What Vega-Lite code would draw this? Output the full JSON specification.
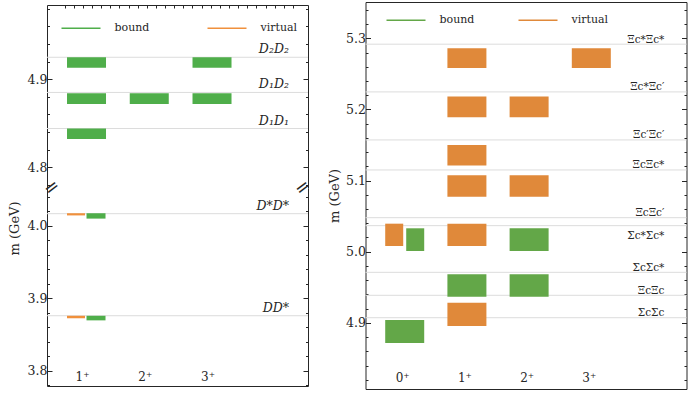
{
  "$schema": "https://vega.github.io/schema/vega-lite/v6.json",
  "padding": {"left": 8, "top": 2, "right": 2, "bottom": 2},
  "background": "white",
  "config": {
    "view": {"stroke": null},
    "font": "DejaVu Serif",
    "axis": {
      "domainColor": "#262626", "tickColor": "#262626", "labelColor": "#262626", "titleColor": "#262626",
      "labelFont": "DejaVu Serif", "labelFontSize": 12.5, "titleFont": "DejaVu Serif", "titleFontSize": 13,
      "titleFontWeight": "normal", "grid": false, "domainWidth": 1, "tickWidth": 1
    },
    "legend": {"labelFont": "DejaVu Serif", "labelFontSize": 11, "labelColor": "#262626"}
  },
  "datasets": {
    "thrL": [
      {"label": "D₂D₂", "m": 4.925},
      {"label": "D₁D₂", "m": 4.885},
      {"label": "D₁D₁", "m": 4.844},
      {"label": "D*D*", "m": 4.0166},
      {"label": "DD*", "m": 3.8759}
    ],
    "barsL": [
      {"jp": "1⁺", "i": 0, "kind": "bound", "pair": "no", "m_hi": 4.925, "m_lo": 4.913},
      {"jp": "3⁺", "i": 2, "kind": "bound", "pair": "no", "m_hi": 4.925, "m_lo": 4.913},
      {"jp": "1⁺", "i": 0, "kind": "bound", "pair": "no", "m_hi": 4.884, "m_lo": 4.872},
      {"jp": "2⁺", "i": 1, "kind": "bound", "pair": "no", "m_hi": 4.884, "m_lo": 4.872},
      {"jp": "3⁺", "i": 2, "kind": "bound", "pair": "no", "m_hi": 4.884, "m_lo": 4.872},
      {"jp": "1⁺", "i": 0, "kind": "bound", "pair": "no", "m_hi": 4.844, "m_lo": 4.832},
      {"jp": "1⁺", "i": 0, "kind": "virtual", "pair": "yes", "m_hi": 4.0172, "m_lo": 4.0142},
      {"jp": "1⁺", "i": 0, "kind": "bound", "pair": "yes", "m_hi": 4.0172, "m_lo": 4.0098},
      {"jp": "1⁺", "i": 0, "kind": "virtual", "pair": "yes", "m_hi": 3.8758, "m_lo": 3.8724},
      {"jp": "1⁺", "i": 0, "kind": "bound", "pair": "yes", "m_hi": 3.8758, "m_lo": 3.8695}
    ],
    "jpL": [
      {"jp": "1⁺", "i": 0}, {"jp": "2⁺", "i": 1}, {"jp": "3⁺", "i": 2}
    ],
    "thrR": [
      {"label": "Ξc*Ξc*", "m": 5.2917},
      {"label": "Ξc*Ξc′", "m": 5.2246},
      {"label": "Ξc′Ξc′", "m": 5.1571},
      {"label": "ΞcΞc*", "m": 5.1149},
      {"label": "ΞcΞc′", "m": 5.0478},
      {"label": "Σc*Σc*", "m": 5.0366},
      {"label": "ΣcΣc*", "m": 4.971},
      {"label": "ΞcΞc", "m": 4.9387},
      {"label": "ΣcΣc", "m": 4.9072}
    ],
    "barsR": [
      {"jp": "0⁺", "i": 0, "kind": "virtual", "pair": "yes", "m_hi": 5.0394, "m_lo": 5.008},
      {"jp": "0⁺", "i": 0, "kind": "bound", "pair": "yes", "m_hi": 5.0329, "m_lo": 5.001},
      {"jp": "0⁺", "i": 0, "kind": "bound", "pair": "no", "m_hi": 4.9039, "m_lo": 4.8716},
      {"jp": "1⁺", "i": 1, "kind": "virtual", "pair": "no", "m_hi": 5.2861, "m_lo": 5.2584},
      {"jp": "1⁺", "i": 1, "kind": "virtual", "pair": "no", "m_hi": 5.218, "m_lo": 5.189},
      {"jp": "1⁺", "i": 1, "kind": "virtual", "pair": "no", "m_hi": 5.1501, "m_lo": 5.121},
      {"jp": "1⁺", "i": 1, "kind": "virtual", "pair": "no", "m_hi": 5.1075, "m_lo": 5.0774},
      {"jp": "1⁺", "i": 1, "kind": "virtual", "pair": "no", "m_hi": 5.0394, "m_lo": 5.008},
      {"jp": "1⁺", "i": 1, "kind": "bound", "pair": "no", "m_hi": 4.9682, "m_lo": 4.9367},
      {"jp": "1⁺", "i": 1, "kind": "virtual", "pair": "no", "m_hi": 4.9283, "m_lo": 4.8955},
      {"jp": "2⁺", "i": 2, "kind": "virtual", "pair": "no", "m_hi": 5.218, "m_lo": 5.189},
      {"jp": "2⁺", "i": 2, "kind": "virtual", "pair": "no", "m_hi": 5.1075, "m_lo": 5.0774},
      {"jp": "2⁺", "i": 2, "kind": "bound", "pair": "no", "m_hi": 5.0329, "m_lo": 5.001},
      {"jp": "2⁺", "i": 2, "kind": "bound", "pair": "no", "m_hi": 4.9682, "m_lo": 4.9367},
      {"jp": "3⁺", "i": 3, "kind": "virtual", "pair": "no", "m_hi": 5.2861, "m_lo": 5.2584}
    ],
    "jpR": [
      {"jp": "0⁺", "i": 0}, {"jp": "1⁺", "i": 1}, {"jp": "2⁺", "i": 2}, {"jp": "3⁺", "i": 3}
    ]
  },
  "hconcat": [
    {
      "vconcat": [
        {
          "width": 261,
          "height": 183,
          "resolve": {"axis": {"x": "independent", "y": "independent"}},
          "layer": [
            {
              "data": {"name": "thrL"},
              "transform": [{"filter": "datum.m > 4.5"}],
              "mark": {"type": "rule", "color": "#dcdcdc", "strokeWidth": 1},
              "encoding": {
                "y": {"field": "m", "type": "quantitative",
                  "scale": {"domain": [4.7764, 4.9844], "nice": false, "zero": false},
                  "axis": {"orient": "left", "title": null, "tickCount": 10, "labelOverlap": false,
                    "labelExpr": "abs(datum.value*10 - round(datum.value*10)) < 0.001 ? format(datum.value, '.1f') : ''",
                    "labelFontSize": {"condition": {"test": "abs(datum.value*10 - round(datum.value*10)) < 0.001", "value": 12.5}, "value": 0},
                    "tickSize": {"condition": {"test": "abs(datum.value*10 - round(datum.value*10)) < 0.001", "value": -5}, "value": -2.5},
                    "labelPadding": 5}}
              }
            },
            {
              "data": {"name": "thrL"},
              "transform": [{"filter": "datum.m > 4.5"}],
              "mark": {"type": "text", "align": "right", "baseline": "alphabetic", "dy": -4, "fontSize": 12.5, "fontStyle": "italic", "font": "DejaVu Serif", "color": "#262626"},
              "encoding": {
                "x": {"datum": 3.226, "type": "quantitative",
                  "scale": {"domain": [-0.55, 3.45], "nice": false, "zero": false},
                  "axis": {"orient": "top", "title": null, "labels": false, "tickSize": -3,
                    "values": [-0.348, -0.2025, -0.057, 0.0885, 0.234, 0.3795, 0.525, 0.6705, 0.816, 0.9615, 1.107, 1.2525, 1.398, 1.5435, 1.689, 1.8345, 1.98, 2.1255, 2.271, 2.4165, 2.562, 2.7075, 2.853, 2.9985, 3.144, 3.2895]}},
                "y": {"field": "m", "type": "quantitative",
                  "axis": {"orient": "right", "title": null, "labels": false, "tickCount": 10,
                    "tickSize": {"condition": {"test": "abs(datum.value*10 - round(datum.value*10)) < 0.001", "value": -5}, "value": -2.5}}},
                "text": {"field": "label"}
              }
            },
            {
              "data": {"name": "barsL"},
              "transform": [{"filter": "datum.m_lo > 4.5"}],
              "mark": {"type": "bar", "width": 39, "orient": "vertical"},
              "encoding": {
                "x": {"field": "i", "type": "quantitative", "axis": null},
                "y": {"field": "m_hi", "type": "quantitative", "axis": null},
                "y2": {"field": "m_lo"},
                "color": {"field": "kind", "type": "nominal",
                  "scale": {"domain": ["bound", "virtual"], "range": ["#4fae4a", "#f0903c"]},
                  "legend": {"orient": "none", "legendX": 26.5, "legendY": 15.5, "direction": "horizontal", "title": null,
                    "symbolType": "M-3,0H3", "symbolSize": 169, "symbolStrokeWidth": 1.6, "labelOffset": 26, "columnPadding": 54, "padding": 0,
                    "encode": {"symbols": {"update": {"stroke": {"signal": "datum.value === 'bound' ? '#4fae4a' : '#f0903c'"}, "strokeWidth": {"value": 1.6}}}}}
                }
              }
            },
            {
              "data": {"values": [{}]},
              "mark": {"type": "text", "text": "=", "font": "DejaVu Sans", "fontSize": 18, "angle": 323, "align": "center", "baseline": "middle", "color": "#262626"},
              "encoding": {
                "x": {"datum": -0.55, "type": "quantitative", "axis": null},
                "y": {"datum": 4.7764, "type": "quantitative", "axis": null}
              }
            },
            {
              "data": {"values": [{}]},
              "mark": {"type": "text", "text": "=", "font": "DejaVu Sans", "fontSize": 18, "angle": 323, "align": "center", "baseline": "middle", "color": "#262626"},
              "encoding": {
                "x": {"datum": 3.45, "type": "quantitative", "axis": null},
                "y": {"datum": 4.7764, "type": "quantitative", "axis": null}
              }
            }
          ]
        },
        {
          "width": 261,
          "height": 198,
          "resolve": {"axis": {"x": "independent", "y": "independent"}},
          "layer": [
            {
              "data": {"name": "thrL"},
              "transform": [{"filter": "datum.m < 4.5"}],
              "mark": {"type": "rule", "color": "#dcdcdc", "strokeWidth": 1},
              "encoding": {
                "y": {"field": "m", "type": "quantitative",
                  "scale": {"domain": [3.779, 4.052], "nice": false, "zero": false},
                  "axis": {"orient": "left", "title": "m (GeV)", "titleX": -25.5, "titleY": 40, "tickCount": 14, "labelOverlap": false,
                    "labelExpr": "abs(datum.value*10 - round(datum.value*10)) < 0.001 ? format(datum.value, '.1f') : ''",
                    "labelFontSize": {"condition": {"test": "abs(datum.value*10 - round(datum.value*10)) < 0.001", "value": 12.5}, "value": 0},
                    "tickSize": {"condition": {"test": "abs(datum.value*10 - round(datum.value*10)) < 0.001", "value": -5}, "value": -2.5},
                    "labelPadding": 5}}
              }
            },
            {
              "data": {"name": "thrL"},
              "transform": [{"filter": "datum.m < 4.5"}],
              "mark": {"type": "text", "align": "right", "baseline": "alphabetic", "dy": -4, "fontSize": 12.5, "fontStyle": "italic", "font": "DejaVu Serif", "color": "#262626"},
              "encoding": {
                "x": {"datum": 3.226, "type": "quantitative",
                  "scale": {"domain": [-0.55, 3.45], "nice": false, "zero": false},
                  "axis": {"orient": "bottom", "title": null, "labels": false, "ticks": false}},
                "y": {"field": "m", "type": "quantitative",
                  "axis": {"orient": "right", "title": null, "labels": false, "tickCount": 14,
                    "tickSize": {"condition": {"test": "abs(datum.value*10 - round(datum.value*10)) < 0.001", "value": -5}, "value": -2.5}}},
                "text": {"field": "label"}
              }
            },
            {
              "data": {"name": "barsL"},
              "transform": [{"filter": "datum.m_lo < 4.5 && datum.kind === 'virtual'"}],
              "mark": {"type": "bar", "width": 18, "xOffset": -10.5, "orient": "vertical"},
              "encoding": {
                "x": {"field": "i", "type": "quantitative", "axis": null},
                "y": {"field": "m_hi", "type": "quantitative", "axis": null},
                "y2": {"field": "m_lo"},
                "color": {"field": "kind", "type": "nominal",
                  "scale": {"domain": ["bound", "virtual"], "range": ["#4fae4a", "#f0903c"]}, "legend": null}
              }
            },
            {
              "data": {"name": "barsL"},
              "transform": [{"filter": "datum.m_lo < 4.5 && datum.kind === 'bound'"}],
              "mark": {"type": "bar", "width": 19, "xOffset": 9.5, "orient": "vertical"},
              "encoding": {
                "x": {"field": "i", "type": "quantitative", "axis": null},
                "y": {"field": "m_hi", "type": "quantitative", "axis": null},
                "y2": {"field": "m_lo"},
                "color": {"field": "kind", "type": "nominal",
                  "scale": {"domain": ["bound", "virtual"], "range": ["#4fae4a", "#f0903c"]}, "legend": null}
              }
            },
            {
              "data": {"name": "jpL"},
              "mark": {"type": "text", "fontSize": 12, "font": "DejaVu Serif", "baseline": "middle", "align": "center", "dx": -4, "color": "#262626"},
              "encoding": {
                "x": {"field": "i", "type": "quantitative", "axis": null},
                "y": {"datum": 3.7917, "type": "quantitative", "axis": null},
                "text": {"field": "jp"}
              }
            }
          ]
        }
      ],
      "spacing": 0,
      "bounds": "flush",
      "resolve": {"scale": {"color": "independent"}, "legend": {"color": "independent"}}
    },
    {
      "width": 321,
      "height": 387,
      "resolve": {"axis": {"x": "independent", "y": "independent"}},
      "layer": [
        {
          "data": {"name": "thrR"},
          "mark": {"type": "rule", "color": "#dcdcdc", "strokeWidth": 1},
          "encoding": {
            "y": {"field": "m", "type": "quantitative",
              "scale": {"domain": [4.807, 5.351], "nice": false, "zero": false},
              "axis": {"orient": "left", "title": "m (GeV)", "tickCount": 27, "labelOverlap": false,
                "labelExpr": "abs(datum.value*10 - round(datum.value*10)) < 0.001 ? format(datum.value, '.1f') : ''",
                "labelFontSize": {"condition": {"test": "abs(datum.value*10 - round(datum.value*10)) < 0.001", "value": 12.5}, "value": 0},
                "tickSize": {"condition": {"test": "abs(datum.value*10 - round(datum.value*10)) < 0.001", "value": -5}, "value": -2.5},
                "labelPadding": 5, "titlePadding": 4}}
          }
        },
        {
          "data": {"name": "thrR"},
          "transform": [{"filter": "datum.label !== 'Σc*Σc*'"}],
          "mark": {"type": "text", "align": "right", "baseline": "alphabetic", "dy": -1.5, "fontSize": 10.5, "font": "DejaVu Serif", "color": "#262626"},
          "encoding": {
            "x": {"datum": 4.174, "type": "quantitative",
              "scale": {"domain": [-0.55, 4.45], "nice": false, "zero": false},
              "axis": {"orient": "top", "title": null, "labels": false, "ticks": false}},
            "y": {"field": "m", "type": "quantitative",
              "axis": {"orient": "right", "title": null, "labels": false, "tickCount": 27,
                "tickSize": {"condition": {"test": "abs(datum.value*10 - round(datum.value*10)) < 0.001", "value": -5}, "value": -2.5}}},
            "text": {"field": "label"}
          }
        },
        {
          "data": {"name": "thrR"},
          "transform": [{"filter": "datum.label === 'Σc*Σc*'"}],
          "mark": {"type": "text", "align": "right", "baseline": "top", "dy": 5, "fontSize": 10.5, "font": "DejaVu Serif", "color": "#262626"},
          "encoding": {
            "x": {"datum": 4.174, "type": "quantitative",
              "axis": {"orient": "bottom", "title": null, "labels": false, "ticks": false}},
            "y": {"field": "m", "type": "quantitative", "axis": null},
            "text": {"field": "label"}
          }
        },
        {
          "data": {"name": "barsR"},
          "transform": [{"filter": "datum.pair === 'no'"}],
          "mark": {"type": "bar", "width": 39, "orient": "vertical"},
          "encoding": {
            "x": {"field": "i", "type": "quantitative", "axis": null},
            "y": {"field": "m_hi", "type": "quantitative", "axis": null},
            "y2": {"field": "m_lo"},
            "color": {"field": "kind", "type": "nominal",
              "scale": {"domain": ["bound", "virtual"], "range": ["#63a748", "#e0893a"]},
              "legend": {"orient": "none", "legendX": 33, "legendY": 10.5, "direction": "horizontal", "title": null,
                "symbolType": "M-3,0H3", "symbolSize": 169, "symbolStrokeWidth": 1.6, "labelOffset": 26, "columnPadding": 40, "padding": 0,
                "encode": {"symbols": {"update": {"stroke": {"signal": "datum.value === 'bound' ? '#63a748' : '#e0893a'"}, "strokeWidth": {"value": 1.6}}}}}
            }
          }
        },
        {
          "data": {"name": "barsR"},
          "transform": [{"filter": "datum.pair === 'yes' && datum.kind === 'virtual'"}],
          "mark": {"type": "bar", "width": 18, "xOffset": -10.5, "orient": "vertical"},
          "encoding": {
            "x": {"field": "i", "type": "quantitative", "axis": null},
            "y": {"field": "m_hi", "type": "quantitative", "axis": null},
            "y2": {"field": "m_lo"},
            "color": {"field": "kind", "type": "nominal",
              "scale": {"domain": ["bound", "virtual"], "range": ["#63a748", "#e0893a"]}, "legend": null}
          }
        },
        {
          "data": {"name": "barsR"},
          "transform": [{"filter": "datum.pair === 'yes' && datum.kind === 'bound'"}],
          "mark": {"type": "bar", "width": 18, "xOffset": 10.5, "orient": "vertical"},
          "encoding": {
            "x": {"field": "i", "type": "quantitative", "axis": null},
            "y": {"field": "m_hi", "type": "quantitative", "axis": null},
            "y2": {"field": "m_lo"},
            "color": {"field": "kind", "type": "nominal",
              "scale": {"domain": ["bound", "virtual"], "range": ["#63a748", "#e0893a"]}, "legend": null}
          }
        },
        {
          "data": {"name": "jpR"},
          "mark": {"type": "text", "fontSize": 12, "font": "DejaVu Serif", "baseline": "middle", "align": "center", "dx": -2, "color": "#262626"},
          "encoding": {
            "x": {"field": "i", "type": "quantitative", "axis": null},
            "y": {"datum": 4.8224, "type": "quantitative", "axis": null},
            "text": {"field": "jp"}
          }
        }
      ]
    }
  ],
  "spacing": 13.5,
  "center": true,
  "resolve": {"scale": {"color": "independent"}, "legend": {"color": "independent"}}
}
